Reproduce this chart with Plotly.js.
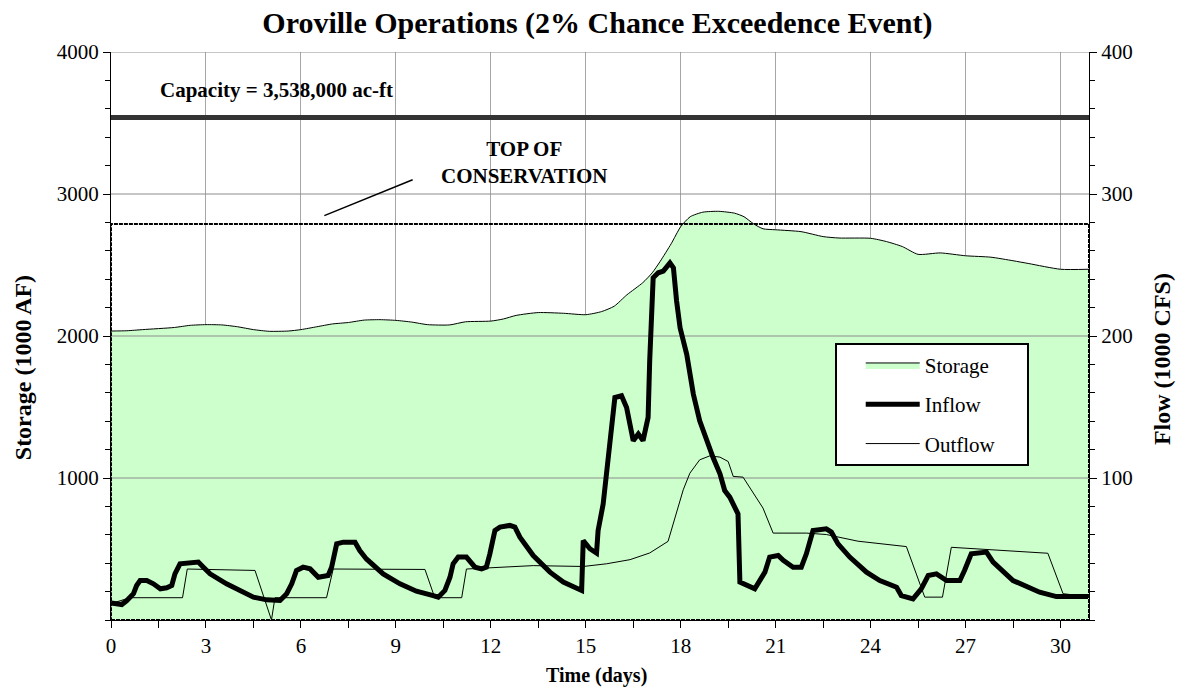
<!DOCTYPE html>
<html>
<head>
<meta charset="utf-8">
<script src="https://cdn.plot.ly/plotly-3.0.1.min.js"></script>
<style>html,body{margin:0;padding:0;background:#fff}#chart{width:1183px;height:696px}</style>
</head>
<body>
<div id="chart"></div>
<script>
// Storage (1000 AF), left axis
const storageDays = [0,0.5,1,2,2.5,3,3.5,4,4.5,5,5.6,6,6.5,7,7.5,8,8.5,9,9.5,10,10.7,11.2,12,12.4,12.8,13.5,14.3,15,15.5,15.9,16.3,16.8,17.1,17.35,17.7,18.0,18.3,18.7,19.2,19.7,20.0,20.3,20.6,21,21.8,22.5,23,24,24.5,25,25.5,26.2,27,27.8,28.5,29,30,30.9];
const storageVals = [2035,2037,2045,2060,2075,2080,2078,2065,2045,2033,2035,2045,2065,2085,2095,2112,2115,2110,2098,2080,2078,2100,2105,2120,2145,2165,2160,2150,2172,2210,2290,2375,2445,2525,2650,2770,2840,2872,2878,2865,2840,2790,2755,2748,2735,2700,2690,2688,2665,2630,2575,2585,2565,2555,2530,2510,2470,2470];

// Inflow (1000 CFS), right axis
const inflowDays = [0,0.34,0.5,0.71,0.81,0.92,1.13,1.34,1.56,1.76,1.92,2.02,2.18,2.39,2.76,2.92,3.13,3.65,4.07,4.5,4.92,5.34,5.55,5.71,5.86,6.07,6.29,6.55,6.86,6.97,7.13,7.34,7.71,7.86,8.07,8.6,9.13,9.65,10.18,10.34,10.55,10.71,10.81,10.97,11.23,11.5,11.71,11.86,11.97,12.13,12.29,12.6,12.76,12.92,13.34,13.87,14.29,14.87,14.92,15.13,15.34,15.39,15.55,15.66,15.81,15.92,16.13,16.29,16.5,16.66,16.81,16.97,17.02,17.13,17.29,17.45,17.66,17.77,17.87,17.98,18.19,18.4,18.6,18.81,19.02,19.24,19.39,19.55,19.81,19.87,20.08,20.34,20.66,20.81,21.08,21.24,21.55,21.81,21.97,22.18,22.6,22.76,22.97,23.34,23.87,24.29,24.82,24.97,25.34,25.6,25.82,26.08,26.4,26.82,26.97,27.18,27.66,27.87,28.5,29.34,29.87,30.87];
const inflowVals = [11.9,10.9,13.7,18.5,24.3,27.8,27.8,25.5,22,22.7,24.3,32.5,39.6,40,40.8,37.2,32.5,25.5,20.8,16.1,14.2,13.7,18.5,25.5,34.8,37.2,36,30.1,31.3,37.2,53.6,54.8,54.8,48.9,43,32.5,25.5,20.3,17.2,16.1,20.8,30.1,39.6,44.3,44.3,37.2,36,37.2,46.6,63,65.4,66.6,65.4,58.3,45.4,33.7,26.7,20.8,56,50.2,47.1,63,81.7,105.2,140.3,156.7,157.9,149.7,126.3,131,126.3,142.7,182.4,241,244.5,245.7,251.5,248,224.6,205.8,187.1,159,140.3,126.3,114.6,102.9,91.2,86.5,74.8,26.7,24.3,22,33.7,44.3,45.4,42,37.2,37.2,46.6,63,64.2,61.9,53.6,44.3,33.7,27.8,23.1,17.2,14.9,21.9,31.3,32.5,27.8,27.8,35,46.6,47.8,40.8,27.8,19.6,16.5,16.5];

// Outflow (1000 CFS), right axis
const outflowDays = [0,0.6,2.26,2.41,4.55,5.07,5.18,6.81,7.02,9.92,10.23,11.08,11.23,11.76,13.34,14.92,15.66,16.4,17.02,17.6,17.87,18.08,18.29,18.6,18.92,19.24,19.5,19.66,19.97,20.29,20.6,20.92,21.97,22.6,23.6,25.13,25.71,26.27,26.55,29.6,30.08,30.87];
const outflowVals = [11.5,15.7,15.7,35.9,34.9,0,15.7,15.7,35.9,35.6,15.7,15.7,35.9,36.6,38.3,37.7,39.6,42.5,47.2,55.4,75.3,91.7,103.4,112.8,115.6,114.7,111.6,101.1,100.6,89.3,78.8,61.2,61.2,60.2,55.5,51.7,16.1,16.1,51.2,47,18.5,16.5];

const capacity = 3538;          // 1000 AF
const topOfConservation = 2788; // 1000 AF
const gridLevels = [1000, 2000, 3000, 4000];
const flowTicks = [100, 200, 300, 400];
const xTicks = [0,3,6,9,12,15,18,21,24,27,30];
const xEnd = 30.9;

const gx = [], gy = [];
gridLevels.forEach(v => { gx.push(0, xEnd, null); gy.push(v, v, null); });

const FONT = 'Liberation Serif, Times New Roman, serif';
const NB = '\u00a0';

const traces = [
  {x: storageDays, y: storageVals, name: 'Storage', type: 'scatter', mode: 'lines',
   fill: 'tozeroy', fillcolor: '#CCFFCC', line: {color: '#000', width: 1, shape: 'spline', smoothing: 0.6},
   yaxis: 'y', legendrank: 1, legendgroup: 'g1'},
  {x: gx, y: gy, type: 'scatter', mode: 'lines', line: {color: '#8c8c8c', width: 1},
   showlegend: false, hoverinfo: 'skip', yaxis: 'y'},
  {x: outflowDays, y: outflowVals, name: 'Outflow' + NB.repeat(5), type: 'scatter', mode: 'lines',
   line: {color: '#000', width: 1}, yaxis: 'y2', legendrank: 3, legendgroup: 'g3'},
  {x: inflowDays, y: inflowVals, name: 'Inflow', type: 'scatter', mode: 'lines',
   line: {color: '#000', width: 5, shape: 'linear'}, yaxis: 'y2', legendrank: 2, legendgroup: 'g2'}
];

const layout = {
  width: 1183, height: 696,
  margin: {l: 111, r: 94, t: 52, b: 76, pad: 0},
  paper_bgcolor: '#fff', plot_bgcolor: '#fff',
  font: {family: FONT, color: '#000', size: 21},
  title: {text: '<b>Oroville Operations (2% Chance Exceedence Event)</b>', x: 0.505, xanchor: 'center', y: 0.968, yanchor: 'middle',
          font: {family: FONT, size: 30, color: '#000'}},
  showlegend: true,
  legend: {x: 0.74, y: 0.488, xanchor: 'left', yanchor: 'top', bgcolor: '#fff', bordercolor: '#000', borderwidth: 2,
           font: {family: FONT, size: 21, color: '#000'}, indentation: 24, itemwidth: 54,
           traceorder: 'grouped', tracegroupgap: 9},
  xaxis: {range: [0, xEnd], tickvals: xTicks, ticktext: xTicks.map(String), ticks: 'outside', ticklen: 7, tickcolor: '#000',
          showline: true, linecolor: '#000', linewidth: 1, showgrid: true, gridcolor: '#a6a6a6', gridwidth: 1, zeroline: false,
          minor: {dtick: 1.5, tick0: 0, ticks: 'outside', ticklen: 7, tickcolor: '#000', showgrid: false},
          tickfont: {family: FONT, size: 21, color: '#000'}},
  yaxis: {range: [0, 4000], tickvals: gridLevels, ticks: 'outside', ticklen: 7, tickcolor: '#000',
          showline: true, linecolor: '#000', linewidth: 1, showgrid: false, zeroline: false,
          minor: {dtick: 200, tick0: 0, ticks: 'outside', ticklen: 5, tickcolor: '#000', showgrid: false},
          tickfont: {family: FONT, size: 21, color: '#000'}},
  yaxis2: {range: [0, 400], tickvals: flowTicks, overlaying: 'y', side: 'right', ticks: 'outside', ticklen: 7, tickcolor: '#000',
           showline: true, linecolor: '#000', linewidth: 1, showgrid: false, zeroline: false,
           minor: {dtick: 20, tick0: 0, ticks: 'outside', ticklen: 5, tickcolor: '#000', showgrid: false},
           tickfont: {family: FONT, size: 21, color: '#000'}},
  shapes: [
    {type: 'line', xref: 'x', yref: 'y', x0: 0, x1: xEnd, y0: capacity, y1: capacity, line: {color: '#333333', width: 5}, layer: 'above'},
    {type: 'rect', xref: 'x', yref: 'y', x0: 0, x1: xEnd, y0: 0, y1: topOfConservation, line: {color: '#000', width: 2, dash: '4px,1px'}, layer: 'above'},
    {type: 'line', xref: 'x', yref: 'y', x0: 6.74, x1: 9.53, y0: 2848, y1: 3100, line: {color: '#000', width: 1.5}, layer: 'above'}
  ],
  annotations: [
    {xref: 'x', yref: 'y', x: 1.48, y: 3733, xanchor: 'left', yanchor: 'middle', showarrow: false,
     text: '<b>Capacity = 3,538,000 ac-ft</b>', font: {family: FONT, size: 21, color: '#000'}},
    {xref: 'x', yref: 'y', x: 13.05, y: 3220, xanchor: 'center', yanchor: 'middle', showarrow: false, align: 'center',
     text: '<b>TOP OF<br>CONSERVATION</b>', font: {family: FONT, size: 21, color: '#000'}},
    {xref: 'paper', yref: 'paper', x: -0.09, y: 0.445, xanchor: 'center', yanchor: 'middle', showarrow: false, textangle: -90,
     text: '<b>Storage (1000 AF)</b>', font: {family: FONT, size: 24, color: '#000'}},
    {xref: 'paper', yref: 'paper', x: 1.074, y: 0.46, xanchor: 'center', yanchor: 'middle', showarrow: false, textangle: -90,
     text: '<b>Flow (1000 CFS)</b>', font: {family: FONT, size: 24, color: '#000'}},
    {xref: 'paper', yref: 'paper', x: 0.496, y: -0.098, xanchor: 'center', yanchor: 'middle', showarrow: false,
     text: '<b>Time (days)</b>', font: {family: FONT, size: 20, color: '#000'}}
  ]
};

Plotly.newPlot('chart', traces, layout, {displayModeBar: false, staticPlot: true});
</script>
</body>
</html>
